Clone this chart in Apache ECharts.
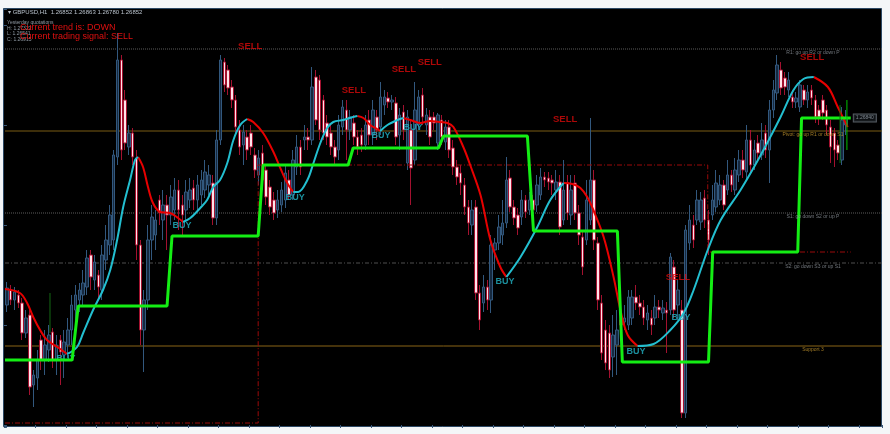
<!DOCTYPE html>
<html><head><meta charset="utf-8">
<script src="https://cdn.jsdelivr.net/npm/echarts@6/dist/echarts.min.js"></script>
<style>html,body{margin:0;padding:0;background:#f4f6f8;}#c{width:890px;height:434px;}</style>
</head><body><div id="c"></div>
<script>
// ---------------- DATA ----------------
const slotCount = 230;                       // time slots on the axis (H1 bars)
const barSlots = Array.from({length: slotCount}, (_, k) => 'bar ' + (k + 1));
// candles: [open, close, low, high] in chart price units
const ohlc = [
[120,137,113,143],[135,125,120,140],[125,133,115,138],[130,122,117,135],[122,92,85,127],[92,107,87,115],[110,38,30,117],[40,50,18,55],[47,65,35,75],[85,65,55,90],
[65,80,50,95],[75,90,63,100],[93,65,57,97],[65,80,50,90],[85,73,40,90],[70,83,47,95],[80,95,67,107],[95,120,80,130],[115,130,105,140],[125,135,113,142],
[130,142,120,155],[138,167,130,175],[170,148,135,175],[145,163,135,170],[150,138,125,155],[135,170,125,180],[165,185,155,200],[180,210,170,220],[185,270,175,275],[268,365,260,392],
[365,275,265,370],[325,282,275,335],[278,292,270,300],[292,268,260,297],[267,180,165,275],[180,95,80,185],[95,125,53,135],[125,185,115,200],[185,208,165,220],[190,205,175,215],
[225,212,200,230],[205,220,185,235],[220,210,175,230],[210,228,200,240],[215,235,205,247],[235,215,195,245],[220,210,190,230],[215,233,205,245],[225,235,217,247],[237,225,215,245],
[225,240,215,250],[230,245,220,255],[235,253,227,265],[240,250,230,260],[242,207,200,250],[207,285,200,295],[285,365,280,370],[363,340,333,367],[355,337,330,360],[338,325,317,345],
[325,298,290,330],[295,278,270,305],[280,293,260,300],[288,275,265,295],[292,278,270,300],[270,255,247,277],[250,267,240,275],[272,245,235,280],[255,228,220,260],[238,218,210,245],
[225,212,205,233],[215,225,207,235],[220,235,213,243],[225,252,217,260],[245,230,225,255],[230,265,225,275],[258,278,250,290],[278,258,250,285],[285,288,275,300],[288,285,275,297],
[285,338,280,358],[348,305,300,355],[345,295,285,350],[325,292,285,330],[302,288,280,310],[292,278,270,300],[278,268,260,285],[275,300,265,310],[298,318,290,325],[315,295,265,325],
[295,308,285,315],[302,288,280,310],[288,278,270,295],[290,280,273,297],[280,300,275,310],[305,290,280,315],[290,315,280,325],[308,295,285,315],[298,328,290,343],[320,328,310,335],
[327,323,317,333],[323,325,315,330],[322,288,280,328],[290,310,275,317],[313,295,285,320],[262,308,255,315],[295,257,220,305],[265,315,260,343],[300,328,295,335],[330,308,300,337],
[300,310,290,317],[308,288,280,315],[308,302,295,313],[282,310,275,312],[305,288,280,310],[283,298,275,305],[298,275,267,305],[277,258,250,285],[258,248,240,265],[252,242,230,260],
[240,218,210,247],[218,202,190,225],[200,215,190,225],[218,132,125,225],[132,105,95,140],[122,138,113,150],[138,125,115,145],[125,180,112,190],[175,182,155,187],[182,198,175,210],
[190,202,180,225],[202,245,197,268],[247,218,213,255],[218,207,200,225],[210,197,190,217],[208,225,200,235],[225,213,207,230],[215,225,210,233],[225,215,210,230],[220,240,213,250],
[230,248,225,257],[248,245,238,253],[247,243,235,253],[245,242,230,250],[235,243,225,255],[243,198,190,250],[205,235,200,265],[242,212,205,250],[210,235,200,250],[242,212,205,250],
[212,190,180,220],[188,158,150,195],[185,225,180,245],[205,245,200,307],[245,185,175,255],[182,125,115,188],[122,72,65,130],[95,62,55,105],[92,55,47,100],[68,90,48,110],
[80,95,50,115],[105,100,90,115],[103,107,95,120],[100,128,95,135],[107,128,100,135],[128,122,115,140],[122,118,110,130],[118,107,100,125],[105,112,95,120],[107,100,90,115],
[107,118,100,130],[118,115,107,125],[112,117,105,125],[115,112,72,123],[115,168,110,172],[158,115,107,165],[120,135,105,145],[115,12,7,125],[12,195,7,200],[182,205,175,220],
[200,185,177,210],[205,225,200,235],[203,225,195,233],[227,205,197,235],[205,185,170,215],[210,225,205,240],[218,242,213,255],[225,240,220,250],[240,220,215,245],[235,250,230,265],
[250,240,233,255],[235,255,230,267],[250,265,243,275],[265,255,247,275],[253,285,245,300],[285,260,253,295],[260,275,255,285],[282,272,265,290],[270,285,265,302],[292,275,267,300],
[275,315,242,325],[315,335,307,345],[332,360,325,370],[355,337,330,363],[347,338,330,353],[335,345,328,353],[328,323,317,335],[323,327,317,333],[318,340,313,345],[335,325,320,340],
[325,333,317,340],[335,327,320,340],[325,308,302,330],[315,308,300,320],[325,312,305,330],[315,300,290,320],[298,278,262,305],[292,275,258,297],[280,272,265,285],[265,305,260,318],
[300,307,290,315]
];
// smoothed trend line: [bar index, value]; falling parts (red) and rising parts (cyan)
const maFalling = [
 [[-0.5,136],[3.4,132],[5.3,122],[6.9,108],[8.7,95],[10.5,85],[13.2,78],[15.8,71]],
 [[34.4,268],[35.7,258],[37.0,238],[38.3,222],[40.2,213],[42.8,212],[44.9,207],[46.2,203]],
 [[63.0,306],[64.6,303],[67.2,292],[69.9,273],[71.7,257],[73.5,242],[75.1,233]],
 [[91.9,309],[93.5,307],[95.3,300],[97.1,296],[97.9,294]],
 [[104.0,307],[105.8,305],[108.4,302],[111.0,304],[113.7,303],[115.5,302],[117.1,298],[119.7,278],[121.5,260],[124.2,230],[126.8,185],[129.4,158],[131.0,148]],
 [[146.0,242],[148.3,241],[150.4,237],[152.2,228],[153.8,215],[156.5,188],[159.1,148],[160.9,115],[162.8,90],[165.4,79]],
 [[211.6,348],[215.3,338],[217.9,318],[220.5,298]]
];
const maRising = [
 [[15.8,71],[18.4,78],[20.0,92],[22.6,115],[25.2,135],[27.1,155],[28.9,185],[30.5,218],[32.3,245],[33.6,265],[34.4,268]],
 [[46.2,203],[48.1,207],[50.7,217],[52.5,225],[54.1,238],[55.9,245],[57.8,262],[59.4,285],[61.2,300],[63.0,306]],
 [[75.1,233],[76.4,233],[78.8,245],[80.4,262],[82.2,282],[84.0,297],[85.6,303],[88.2,305],[90.8,308],[91.9,309]],
 [[97.9,294],[99.8,300],[102.4,305],[104.0,307]],
 [[131.0,148],[134.7,168],[139.1,198],[142.5,225],[146.0,242]],
 [[165.4,79],[169.6,81],[174.0,95],[177.5,112],[180.1,135],[183.8,175],[187.2,205],[192.4,235],[197.7,270],[202.9,308],[206.3,335],[208.9,346],[211.6,348]]
];
// green trailing step line
const stepLine = [[-0.5,65],[17.1,65],[18.7,119],[42.0,119],[43.3,189],[65.9,189],[67.2,260],[89.5,260],[90.8,277],[113.2,277],[114.5,289],[136.5,289],[138.1,194],[160.1,194],[161.4,63],[184.0,63],[185.1,173],[207.4,173],[208.4,307],[221.3,307]];
// red dash-dot stop line
const stopLine = [[-0.5,2],[65.9,2],[65.9,260],[183.8,260],[183.8,173],[221.3,173]];
// pivot levels
const levelNames = ['R1: go up R2 or down P','Pivot: go up R1 or down S1','S1: go down S2 or up P','S2: go down S3 or up S1','Support 3'];
const levelValues = [376, 294, 212, 162, 79];
// signals
const sellSignals = [[63.8,379],[91.0,335],[104.1,356],[110.9,363],[146.4,306],[176.0,148],[211.2,368]];
const buySignals = [[15.5,66],[45.9,199],[75.6,227],[98.1,289],[106.5,297],[130.6,143],[165.0,73],[176.8,107]];
const lastPrice = 307, lastPriceText = '1.26840';

// ---------------- STYLE / LAYOUT ----------------
const FONT = 'Liberation Sans, Arial, sans-serif';
const CLEAR = 'rgba(0,0,0,0)';
const levelStyles = [
 {color:'#5c5c5c', type:'dotted', text:'#8d939b'},
 {color:'#7a5c14', type:'solid', text:'#c99a2e'},
 {color:'#5c5c5c', type:'dotted', text:'#8d939b'},
 {color:'#4e4e4e', type:[4,2,1,2], text:'#8d939b'},
 {color:'#8a6516', type:'solid', text:'#c99a2e'}
];
const levelLabelAt = 211.4;   // bar position of the level captions
const chart = echarts.init(document.getElementById('c'), null, {renderer:'canvas'});
const series = [];
series.push({type:'candlestick', xAxisIndex:0, yAxisIndex:0, data: ohlc, barWidth:3, z:2,
  itemStyle:{color:'#16293f', color0:'#ffe3e9', borderColor:'#32587e', borderColor0:'#a3112f', borderWidth:1}});
levelValues.forEach((v,k)=>{
  const st = levelStyles[k];
  series.push({type:'line', xAxisIndex:1, yAxisIndex:0, symbol:'none', silent:true, z:1,
    data:[[-0.5,v],[slotCount-0.5,v]], lineStyle:{color:st.color, width:1, type:st.type}});
  series.push({type:'scatter', xAxisIndex:1, yAxisIndex:0, symbolSize:1, silent:true, z:6,
    itemStyle:{color:CLEAR}, data:[[levelLabelAt, v-4]],
    label:{show:true, position:'inside', formatter:levelNames[k], color:st.text, fontSize:5, fontFamily:FONT}});
});
series.push({type:'line', xAxisIndex:1, yAxisIndex:0, symbol:'none', silent:true, z:3, data:stopLine,
  lineStyle:{color:'#9a0a0a', width:1, type:[5,2,1,2]}});
maFalling.forEach(seg=>series.push({type:'line', xAxisIndex:1, yAxisIndex:0, symbol:'none', silent:true, z:4,
  data:seg, smooth:0.35, lineStyle:{color:'#e80000', width:2}}));
maRising.forEach(seg=>series.push({type:'line', xAxisIndex:1, yAxisIndex:0, symbol:'none', silent:true, z:4,
  data:seg, smooth:0.35, lineStyle:{color:'#23bfd0', width:2}}));
series.push({type:'line', xAxisIndex:1, yAxisIndex:0, symbol:'none', silent:true, z:5, data:stepLine,
  lineStyle:{color:'#14ee14', width:3}});
// small last-bar markers
series.push({type:'line', xAxisIndex:1, yAxisIndex:0, symbol:'none', silent:true, z:5,
  data:[[220.3,325],[220.3,275]], lineStyle:{color:'#00c400', width:1}});
series.push({type:'line', xAxisIndex:1, yAxisIndex:0, symbol:'none', silent:true, z:5,
  data:[[218.5,320],[218.5,262]], lineStyle:{color:'#0b6f0b', width:1}});
series.push({type:'line', xAxisIndex:1, yAxisIndex:0, symbol:'none', silent:true, z:5,
  data:[[11.3,132],[11.3,92]], lineStyle:{color:'#146a14', width:1}});
series.push({type:'scatter', xAxisIndex:1, yAxisIndex:0, symbolSize:1, silent:true, z:7, itemStyle:{color:CLEAR},
  data:sellSignals, label:{show:true, position:'inside', formatter:'SELL', color:'#d80a0a', fontSize:9.5, fontWeight:'bold', fontFamily:FONT}});
series.push({type:'scatter', xAxisIndex:1, yAxisIndex:0, symbolSize:1, silent:true, z:4, itemStyle:{color:CLEAR},
  data:buySignals, label:{show:true, position:'inside', formatter:'BUY', color:'#22b3c4', fontSize:9, fontWeight:'bold', fontFamily:FONT}});
series.push({type:'scatter', xAxisIndex:1, yAxisIndex:0, symbolSize:1, silent:true, z:7, itemStyle:{color:CLEAR},
  data:[[225.0,lastPrice]], label:{show:true, position:'inside', formatter:lastPriceText, color:'#9aa3ad', fontSize:5,
  fontFamily:FONT, backgroundColor:'#101418', borderColor:'#6b737c', borderWidth:1, padding:[1,2]}});

const option = {
  animation:false,
  backgroundColor:'#f4f6f8',
  grid:{left:5, right:8, top:9, bottom:7, containLabel:false},
  xAxis:[
    {type:'category', data:barSlots, boundaryGap:true,
     axisLine:{show:false}, axisLabel:{show:false}, splitLine:{show:false},
     axisTick:{show:true, inside:false, length:3, interval:7, lineStyle:{color:'#3b5878'}}},
    {type:'value', min:-0.5, max:slotCount-0.5, show:false}
  ],
  yAxis:[{type:'value', position:'right', min:-2, max:416, scale:false,
     axisLine:{show:false}, axisLabel:{show:false}, splitLine:{show:false},
     axisTick:{show:true, inside:true, length:3, lineStyle:{color:'#3b5878'}}}],
  graphic:[
    {type:'rect', z:-10, silent:true, shape:{x:3.5, y:8.5, width:878, height:418},
     style:{fill:'#000000', stroke:'#2c4864', lineWidth:1}},
    {type:'text', z:100, x:8, y:12, style:{text:'\u25BE GBPUSD,H1  1.26852 1.26863 1.26780 1.26852', fill:'#b9c2cc', font:'6px '+FONT, verticalAlign:'middle', textVerticalAlign:'middle'}},
    {type:'text', z:100, x:7, y:23, style:{text:'Yesterday quotations', fill:'#8f99a3', font:'5px '+FONT, verticalAlign:'middle', textVerticalAlign:'middle'}},
    {type:'text', z:100, x:7, y:29, style:{text:'H: 1.27322', fill:'#8f99a3', font:'5px '+FONT, verticalAlign:'middle', textVerticalAlign:'middle'}},
    {type:'text', z:100, x:7, y:34, style:{text:'L: 1.26541', fill:'#8f99a3', font:'5px '+FONT, verticalAlign:'middle', textVerticalAlign:'middle'}},
    {type:'text', z:100, x:7, y:40, style:{text:'C: 1.26915', fill:'#8f99a3', font:'5px '+FONT, verticalAlign:'middle', textVerticalAlign:'middle'}},
    {type:'text', z:101, x:20, y:28, style:{text:'Current trend is: DOWN', fill:'#e01010', font:'9px '+FONT, verticalAlign:'middle', textVerticalAlign:'middle'}},
    {type:'text', z:101, x:20, y:37, style:{text:'Current trading signal: SELL', fill:'#e01010', font:'9px '+FONT, verticalAlign:'middle', textVerticalAlign:'middle'}}
  ],
  series
};
chart.setOption(option);
</script></body></html>
